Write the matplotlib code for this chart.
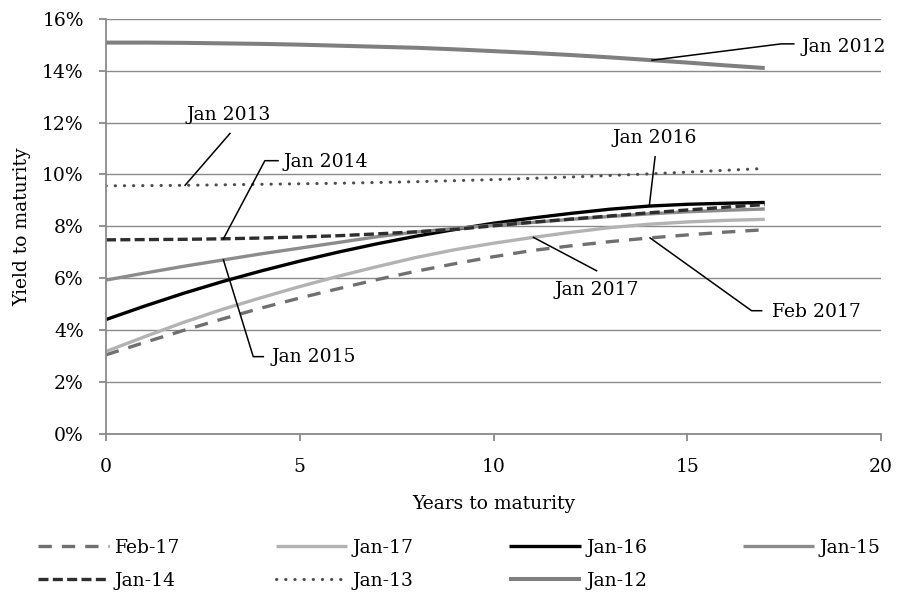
import matplotlib
matplotlib.use("Agg")
import matplotlib.pyplot as plt
import numpy as np

plt.rcParams['font.family'] = ['DejaVu Serif']

years = [0, 1, 2, 3, 4, 5, 6, 7, 8, 9, 10, 11, 12, 13, 14, 15, 16, 17]

feb17 = [3.05, 3.53, 3.99, 4.43, 4.85, 5.24, 5.60, 5.95, 6.27, 6.56, 6.83, 7.07, 7.25, 7.41, 7.55, 7.67, 7.78, 7.87]
jan17 = [3.18, 3.75, 4.30, 4.80, 5.25, 5.68, 6.08, 6.45, 6.80, 7.10, 7.35, 7.57, 7.77, 7.95, 8.08, 8.17, 8.23, 8.27]
jan16 = [4.41, 4.93, 5.42, 5.87, 6.28, 6.66, 7.01, 7.33, 7.62, 7.88, 8.12, 8.32, 8.50, 8.66, 8.78, 8.85, 8.89, 8.92]
jan15 = [5.93, 6.20, 6.46, 6.70, 6.94, 7.16, 7.38, 7.60, 7.78, 7.92, 8.04, 8.15, 8.27, 8.38, 8.48, 8.56, 8.62, 8.67]
jan14 = [7.48, 7.49, 7.50, 7.52, 7.55, 7.59, 7.64, 7.71, 7.79, 7.88, 8.02, 8.16, 8.28, 8.40, 8.52, 8.63, 8.74, 8.84]
jan13 = [9.56, 9.57, 9.58, 9.60, 9.62, 9.64, 9.66, 9.69, 9.72, 9.76, 9.80, 9.85, 9.90, 9.96, 10.02, 10.09, 10.16, 10.23]
jan12 = [15.08, 15.08, 15.07, 15.05, 15.03, 15.00, 14.96, 14.92, 14.88, 14.82, 14.75, 14.68, 14.60, 14.51, 14.41, 14.31, 14.20, 14.10]

legend_labels = ["Feb-17", "Jan-17", "Jan-16", "Jan-15", "Jan-14", "Jan-13", "Jan-12"]
annot_labels = ["Feb 2017", "Jan 2017", "Jan 2016", "Jan 2015", "Jan 2014", "Jan 2013", "Jan 2012"]

x_ticks = [0, 5, 10, 15, 20]
y_ticks = [0, 2, 4, 6, 8, 10, 12, 14, 16]
y_ticklabels = ["0%", "2%", "4%", "6%", "8%", "10%", "12%", "14%", "16%"]

series = [feb17, jan17, jan16, jan15, jan14, jan13, jan12]
styles = [
    dict(color="#707070", lw=2.4, ls=(0, (4, 3))),
    dict(color="#b3b3b3", lw=2.4, ls="-"),
    dict(color="#000000", lw=2.4, ls="-"),
    dict(color="#8c8c8c", lw=2.4, ls="-"),
    dict(color="#2e2e2e", lw=2.4, ls=(0, (3, 1.3))),
    dict(color="#4d4d4d", lw=2.2, ls=(0, (0.1, 2.9))),
    dict(color="#7f7f7f", lw=2.9, ls="-"),
]

FS = 13.5
W, H = 897, 592
fig = plt.figure(figsize=(W / 100, H / 100), dpi=100)
ax = fig.add_axes([106 / W, 1 - 434 / H, (881 - 106) / W, (434 - 18.7) / H])

handles = []
for ys, lab, st in zip(series, legend_labels, styles):
    h, = ax.plot(years, ys, color=st["color"], lw=st["lw"], linestyle=st["ls"],
                 label=lab, dash_capstyle="round" if lab == "Jan-13" else "butt",
                 solid_capstyle="butt")
    handles.append(h)

ax.set_xlim(0, 20)
ax.set_ylim(0, 16)
ax.set_xticks(x_ticks)
ax.set_xticklabels([str(v) for v in x_ticks])
ax.set_yticks(y_ticks)
ax.set_yticklabels(y_ticklabels)
ax.grid(axis="y", color="#8a8a8a", lw=1.0)
ax.set_axisbelow(True)
for s in ["top", "right"]:
    ax.spines[s].set_visible(False)
for s in ["left", "bottom"]:
    ax.spines[s].set_color("#8a8a8a")
    ax.spines[s].set_linewidth(1.3)
ax.tick_params(axis="both", colors="#8a8a8a", labelcolor="black", labelsize=FS,
               length=5, width=1.3, direction="out")
ax.tick_params(axis="y", pad=11)
ax.tick_params(axis="x", pad=12)
ax.set_xlabel("Years to maturity", fontsize=FS, labelpad=14)
ax.set_ylabel("Yield to maturity", fontsize=FS, labelpad=8)

# leader-line annotations: (series index, anchor x, path points, text pos, ha)
annots = [
    (0, 14.04, [(16.66, 4.75), (16.92, 4.75)], (17.18, 4.71), "left"),
    (1, 11.03, [(12.66, 6.29)], (12.66, 5.55), "center"),
    (2, 14.02, [(14.17, 10.68)], (14.17, 11.40), "center"),
    (3, 3.03, [(3.80, 2.98), (4.06, 2.98)], (4.28, 2.97), "left"),
    (4, 3.03, [(4.10, 10.53), (4.44, 10.53)], (4.57, 10.48), "left"),
    (5, 2.04, [(3.20, 11.58)], (3.17, 12.29), "center"),
    (6, 14.09, [(17.42, 15.03), (17.75, 15.03)], (17.94, 14.92), "left"),
]
for idx, ax0, pts, tpos, ha in annots:
    ay = float(np.interp(ax0, years, series[idx]))
    xs = [ax0] + [p[0] for p in pts]
    ys = [ay] + [p[1] for p in pts]
    ax.plot(xs, ys, color="black", lw=1.1, zorder=5)
    ax.text(tpos[0], tpos[1], annot_labels[idx], fontsize=FS, ha=ha, va="center", zorder=6)

# legend laid out row by row (matplotlib fills column by column)
order = [0, 4, 1, 5, 2, 6, 3]
fig.legend([handles[i] for i in order], [legend_labels[i] for i in order],
           loc="upper left", bbox_to_anchor=(38 / W, 1 - 539 / H), ncol=4,
           frameon=False, fontsize=FS, handlelength=3.8, handletextpad=0.3,
           columnspacing=5.1, labelspacing=0.78, borderpad=0, borderaxespad=0)

fig.savefig("out.png", dpi=100)
